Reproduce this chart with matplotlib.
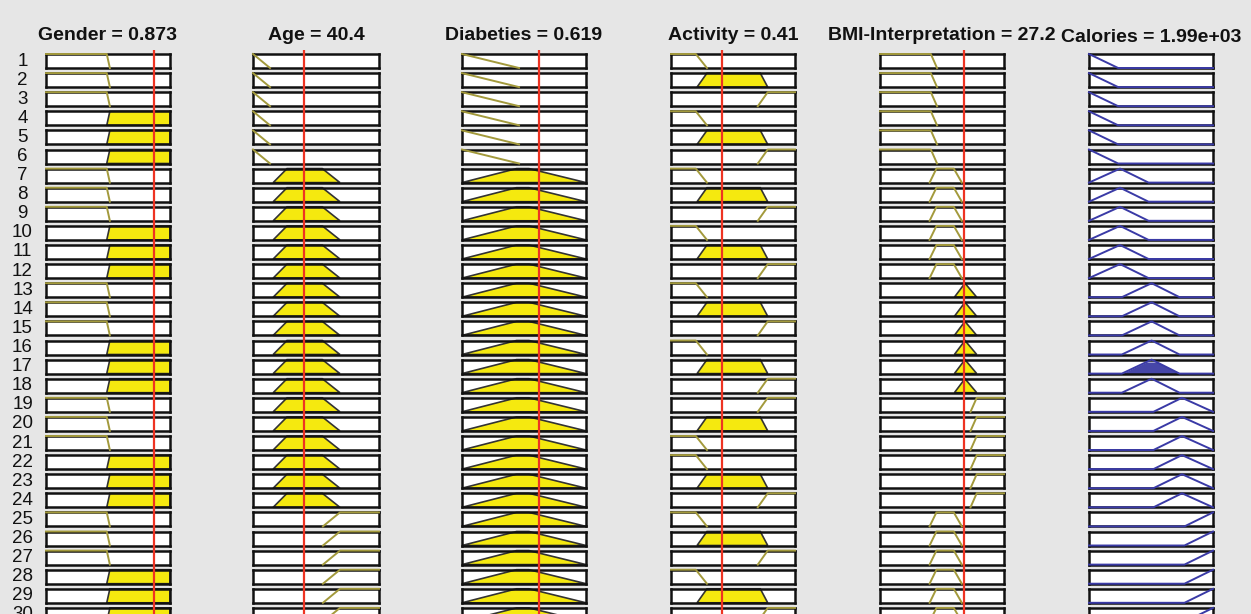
import numpy as np
import matplotlib
matplotlib.use('Agg')
import matplotlib.pyplot as plt

plt.rcParams['font.family'] = ['Liberation Sans', 'DejaVu Sans']

# rule numbers shown on the left
rule_no = [1, 2, 3, 4, 5, 6, 7, 8, 9, 10, 11, 12, 13, 14, 15,
           16, 17, 18, 19, 20, 21, 22, 23, 24, 25, 26, 27, 28, 29, 30]

# variable names, current input values and ranges
names = ['Gender', 'Age', 'Diabeties', 'Activity', 'BMI-Interpretation', 'Calories']
values = [0.873, 40.4, 0.619, 0.41, 27.2, 1990]
ranges = [(0, 1), (0, 100), (0, 1), (0, 1), (0, 40), (1000, 3000)]

# membership functions (trapezoids a, b, c, d)
gender_mf = [[0, 0, 0.49, 0.515], [0.49, 0.515, 1, 1]]
age_mf = [[0, 0, 0, 13.5], [16, 27, 55, 69], [55.5, 69, 100, 100]]
diab_mf = [[0, 0, 0, 0.46], [0, 0.44, 0.54, 1]]
activity_mf = [[0, 0, 0.2, 0.29], [0.21, 0.29, 0.72, 0.78], [0.7, 0.78, 1, 1]]
bmi_mf = [[0, 0, 16.4, 18.4], [16, 18.2, 23.8, 26.4], [24, 27.4, 27.4, 31.2],
          [29.2, 31.2, 40, 40]]
cal_mf = [[500, 1000, 1000, 1470], [1000, 1500, 1500, 1960], [1530, 2010, 2010, 2460],
          [2040, 2500, 2500, 3000], [2540, 3000, 3000, 3500]]

# which MF each rule uses, per variable
gender_rule = [1, 1, 1, 2, 2, 2, 1, 1, 1, 2, 2, 2, 1, 1, 1,
               2, 2, 2, 1, 1, 1, 2, 2, 2, 1, 1, 1, 2, 2, 2]
age_rule = [1, 1, 1, 1, 1, 1, 2, 2, 2, 2, 2, 2, 2, 2, 2,
            2, 2, 2, 2, 2, 2, 2, 2, 2, 3, 3, 3, 3, 3, 3]
diab_rule = [1, 1, 1, 1, 1, 1, 2, 2, 2, 2, 2, 2, 2, 2, 2,
             2, 2, 2, 2, 2, 2, 2, 2, 2, 2, 2, 2, 2, 2, 2]
activity_rule = [1, 2, 3, 1, 2, 3, 1, 2, 3, 1, 2, 3, 1, 2, 3,
                 1, 2, 3, 3, 2, 1, 1, 2, 3, 1, 2, 3, 1, 2, 3]
bmi_rule = [1, 1, 1, 1, 1, 1, 2, 2, 2, 2, 2, 2, 3, 3, 3,
            3, 3, 3, 4, 4, 4, 4, 4, 4, 2, 2, 2, 2, 2, 2]
cal_rule = [1, 1, 1, 1, 1, 1, 2, 2, 2, 2, 2, 2, 3, 3, 3,
            3, 3, 3, 4, 4, 4, 4, 4, 4, 5, 5, 5, 5, 5, 5]

all_mf = [gender_mf, age_mf, diab_mf, activity_mf, bmi_mf, cal_mf]
all_rule = [gender_rule, age_rule, diab_rule, activity_rule, bmi_rule, cal_rule]

BG = '#e6e6e6'
YELLOW = '#f5e90f'
OLIVE = '#a39a3c'
BLUE = '#3a3aa6'
RED = '#ee3322'

W, H = 1251, 614
col_left = [46, 253, 462, 671, 880, 1089]
col_w = [124, 126, 124, 124, 124, 124]
row_top0, row_step, box_h = 54, 19.1, 14


def trap(x, p):
    a, b, c, d = p
    x = np.asarray(x, dtype=float)
    y = np.ones_like(x)
    if b > a:
        y = np.minimum(y, (x - a) / (b - a))
    else:
        y = np.where(x < a, 0, y)
    if d > c:
        y = np.minimum(y, (d - x) / (d - c))
    else:
        y = np.where(x > d, 0, y)
    return np.clip(y, 0, 1)


fig = plt.figure(figsize=(W / 100, H / 100), dpi=100)
fig.patch.set_facecolor(BG)


def px_axes(x, y, w, h):
    return fig.add_axes([x / W, 1 - (y + h) / H, w / W, h / H])


n_in = 5
for r in range(len(rule_no)):
    top = row_top0 + r * row_step
    fig.text(22.5 / W, 1 - (top + box_h / 2) / H, str(rule_no[r]),
             ha='center', va='center', fontsize=13.5, color='#111111')

    # firing strength of this rule
    w = min(float(trap(values[i], all_mf[i][all_rule[i][r] - 1])) for i in range(n_in))

    for i in range(6):
        lo, hi = ranges[i]
        p = all_mf[i][all_rule[i][r] - 1]
        ax = px_axes(col_left[i], top, col_w[i], box_h)
        ax.set_xlim(lo, hi)
        ax.set_ylim(0, 1)
        ax.set_xticks([])
        ax.set_yticks([])
        ax.set_facecolor('white')
        for s in ax.spines.values():
            s.set_linewidth(1.8)
            s.set_color('#111111')

        if i < n_in:
            xs = np.clip(p, lo, hi)
            ys = trap(xs, p)
            if trap(values[i], p) > 0:
                # close the shape along the bottom of the box
                px = np.r_[xs[0], xs, xs[-1]]
                py = np.r_[0, ys, 0]
                ax.fill(px, py, facecolor=YELLOW, edgecolor='#333333',
                        lw=1.2, zorder=2, clip_on=False)
            else:
                ax.plot(xs, ys, color=OLIVE, lw=1.4, zorder=3, clip_on=False)
        else:
            xg = np.linspace(lo, hi, 401)
            yg = trap(xg, p)
            if w > 0:
                ax.fill_between(xg, 0, np.minimum(yg, w), color='#4646a8', lw=0, zorder=2)
            ax.plot(xg, yg, color=BLUE, lw=1.4, zorder=3, clip_on=False)

# titles and red input lines
for i in range(6):
    cx = col_left[i] + col_w[i] / 2
    ty = 35 if i < n_in else 38
    fig.text(cx / W, 1 - ty / H, f'{names[i]} = {values[i]:.3g}',
             ha='center', va='center', fontsize=14, fontweight='bold', color='#111111')
    if i < n_in:
        axr = px_axes(col_left[i], 50, col_w[i], H)
        axr.set_xlim(*ranges[i])
        axr.axis('off')
        axr.patch.set_visible(False)
        axr.axvline(values[i], color=RED, lw=1.6)

fig.savefig('out.png', dpi=100, facecolor=BG)
